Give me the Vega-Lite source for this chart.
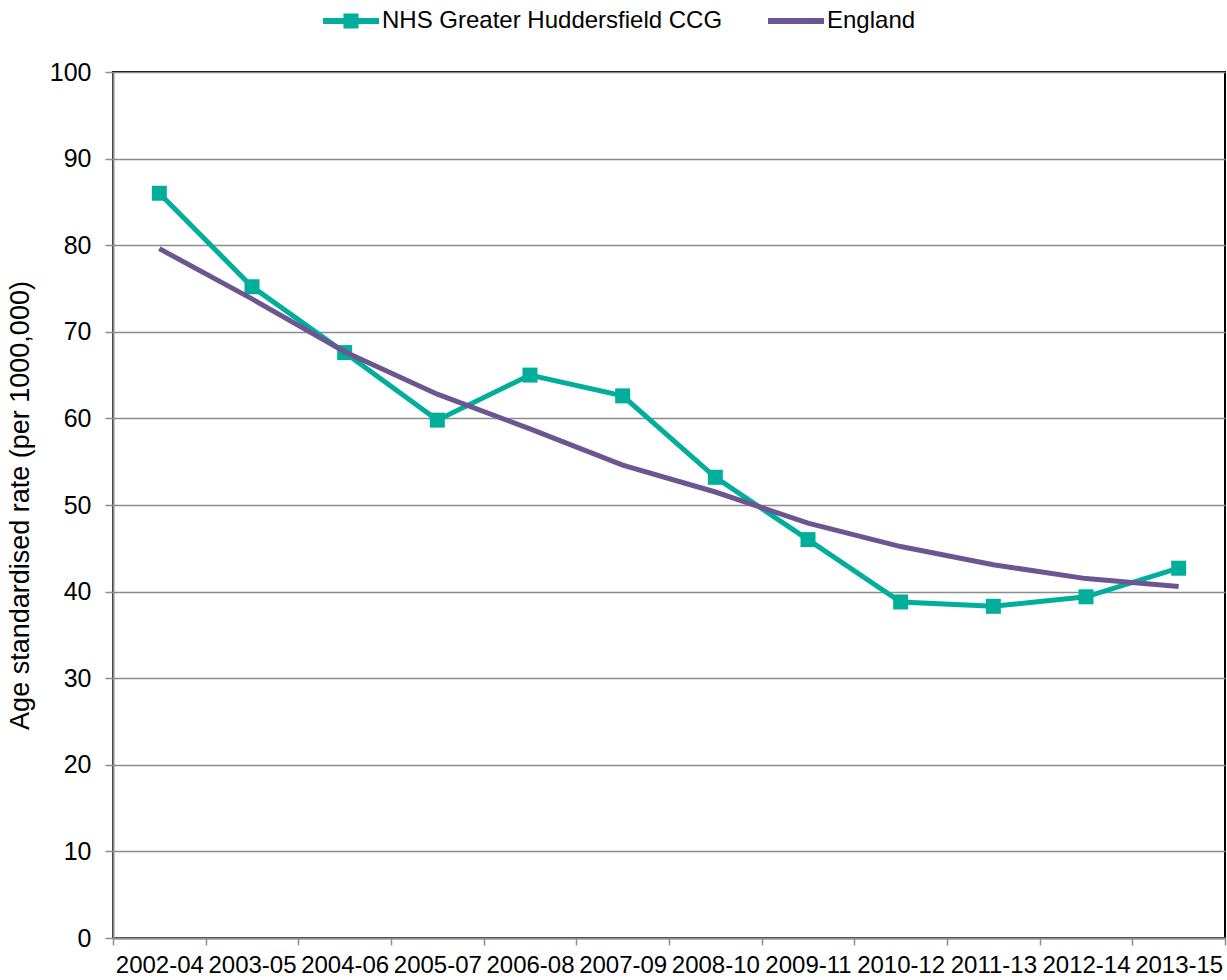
{
  "$schema": "https://vega.github.io/schema/vega-lite/v6.json",
  "width": 1112,
  "height": 866,
  "autosize": {"type": "none"},
  "padding": {"left": 113, "top": 72, "right": 2, "bottom": 42},
  "background": "white",
  "config": {
    "view": {"stroke": "#000000", "strokeWidth": 2},
    "font": "Liberation Sans",
    "axis": {"labelFont": "Liberation Sans", "titleFont": "Liberation Sans", "labelColor": "#000000", "titleColor": "#000000"}
  },
  "data": {
    "values": [
      {"period": "2002-04", "series": "NHS Greater Huddersfield CCG", "value": 86.0},
      {"period": "2003-05", "series": "NHS Greater Huddersfield CCG", "value": 75.2},
      {"period": "2004-06", "series": "NHS Greater Huddersfield CCG", "value": 67.6},
      {"period": "2005-07", "series": "NHS Greater Huddersfield CCG", "value": 59.8},
      {"period": "2006-08", "series": "NHS Greater Huddersfield CCG", "value": 65.0},
      {"period": "2007-09", "series": "NHS Greater Huddersfield CCG", "value": 62.6},
      {"period": "2008-10", "series": "NHS Greater Huddersfield CCG", "value": 53.2},
      {"period": "2009-11", "series": "NHS Greater Huddersfield CCG", "value": 46.0},
      {"period": "2010-12", "series": "NHS Greater Huddersfield CCG", "value": 38.8},
      {"period": "2011-13", "series": "NHS Greater Huddersfield CCG", "value": 38.3},
      {"period": "2012-14", "series": "NHS Greater Huddersfield CCG", "value": 39.4},
      {"period": "2013-15", "series": "NHS Greater Huddersfield CCG", "value": 42.7},
      {"period": "2002-04", "series": "England", "value": 79.6},
      {"period": "2003-05", "series": "England", "value": 73.8},
      {"period": "2004-06", "series": "England", "value": 67.7},
      {"period": "2005-07", "series": "England", "value": 62.8},
      {"period": "2006-08", "series": "England", "value": 58.8},
      {"period": "2007-09", "series": "England", "value": 54.6},
      {"period": "2008-10", "series": "England", "value": 51.5},
      {"period": "2009-11", "series": "England", "value": 47.9},
      {"period": "2010-12", "series": "England", "value": 45.2},
      {"period": "2011-13", "series": "England", "value": 43.1},
      {"period": "2012-14", "series": "England", "value": 41.5},
      {"period": "2013-15", "series": "England", "value": 40.6}
    ]
  },
  "encoding": {
    "x": {
      "field": "period", "type": "ordinal", "sort": null,
      "scale": {"type": "band", "paddingInner": 0, "paddingOuter": 0},
      "axis": {
        "title": null, "labelAngle": 0, "labelFontSize": 24, "labelPadding": 8,
        "tickBand": "extent", "tickSize": 7, "tickColor": "#8c8c8c", "tickWidth": 1.5,
        "domainColor": "#8c8c8c", "domainWidth": 2, "grid": false, "labelOverlap": false
      }
    },
    "y": {
      "field": "value", "type": "quantitative",
      "scale": {"domain": [0, 100], "nice": false},
      "axis": {
        "title": "Age standardised rate (per 1000,000)", "titleFontSize": 27, "titleFontWeight": "normal",
        "titlePadding": 15,
        "values": [0, 10, 20, 30, 40, 50, 60, 70, 80, 90, 100],
        "labelFontSize": 25, "labelPadding": 14, "tickSize": 8, "tickColor": "#8c8c8c", "tickWidth": 1.5,
        "domainColor": "#8c8c8c", "domainWidth": 2,
        "grid": true, "gridColor": "#8c8c8c", "gridWidth": 1.5
      }
    },
    "color": {
      "field": "series", "type": "nominal",
      "scale": {"domain": ["NHS Greater Huddersfield CCG", "England"], "range": ["#00ae9b", "#6c5591"]},
      "legend": {
        "title": null, "orient": "none", "direction": "horizontal",
        "legendX": 210, "legendY": -79,
        "labelFontSize": 24, "labelFont": "Liberation Sans", "labelColor": "#000000", "labelLimit": 0,
        "symbolSize": 3136, "labelOffset": 3, "columnPadding": 45,
        "encode": {
          "symbols": {
            "update": {
              "shape": {"signal": "datum.value === 'England' ? 'M-1,-0.11L1,-0.11L1,0.11L-1,0.11Z' : 'M-1,-0.11L1,-0.11L1,0.11L-1,0.11Z M-0.27,-0.27L0.27,-0.27L0.27,0.27L-0.27,0.27Z'"},
              "fill": {"scale": "color", "field": "value"},
              "stroke": {"value": "transparent"},
              "strokeWidth": {"value": 0},
              "opacity": {"value": 1}
            }
          }
        }
      }
    }
  },
  "layer": [
    {
      "transform": [{"filter": "datum.series === 'NHS Greater Huddersfield CCG'"}],
      "mark": {"type": "line", "strokeWidth": 5}
    },
    {
      "transform": [{"filter": "datum.series === 'NHS Greater Huddersfield CCG'"}],
      "mark": {"type": "point", "shape": "square", "filled": true, "size": 225, "opacity": 1}
    },
    {
      "transform": [{"filter": "datum.series === 'England'"}],
      "mark": {"type": "line", "strokeWidth": 5}
    }
  ]
}
